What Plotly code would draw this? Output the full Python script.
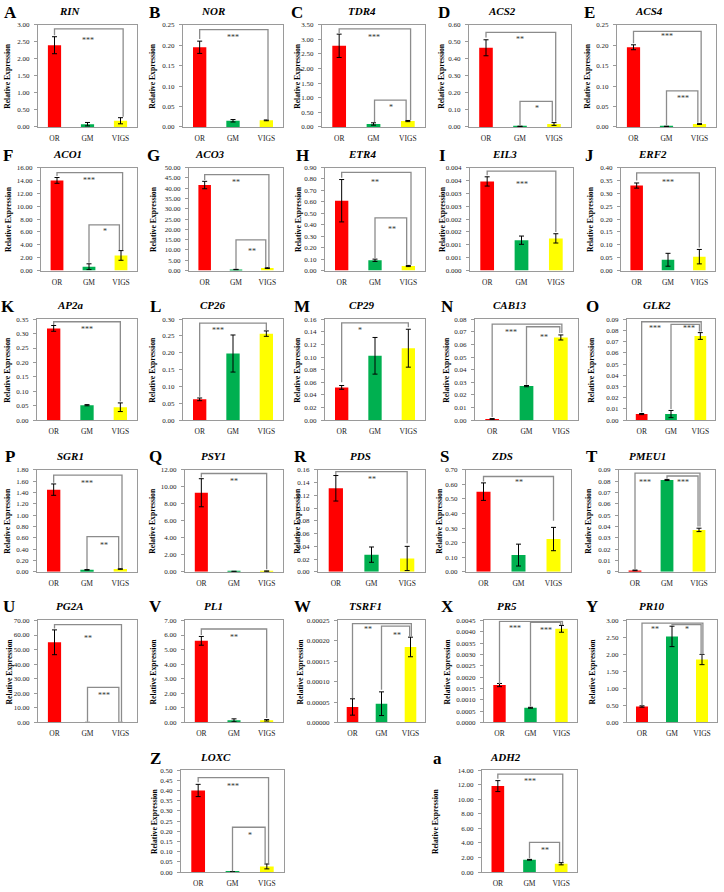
import plotly.graph_objects as go

W, H = 724, 892
SERIF = "Liberation Serif, Times New Roman, DejaVu Serif, serif"
BORDER = "#9a9a9a"
BRACKET = "#8c8c8c"

categories = ["OR", "GM", "VIGS"]
bar_colors = ["#FF0000", "#00B050", "#FFFF00"]

genes = ["RIN", "NOR", "TDR4", "ACS2", "ACS4",
         "ACO1", "ACO3", "ETR4", "EIL3", "ERF2",
         "AP2a", "CP26", "CP29", "CAB13", "GLK2",
         "SGR1", "PSY1", "PDS", "ZDS", "PMEU1",
         "PG2A", "PL1", "TSRF1", "PR5", "PR10",
         "LOXC", "ADH2"]
letters = ["A", "B", "C", "D", "E", "F", "G", "H", "I", "J", "K", "L", "M",
           "N", "O", "P", "Q", "R", "S", "T", "U", "V", "W", "X", "Y", "Z", "a"]

or_vals = [2.40, 0.195, 2.78, 0.465, 0.195,
           14.0, 41.5, 0.61, 0.00346, 0.33,
           0.318, 0.062, 0.052, 0.001, 0.0055,
           1.45, 9.3, 0.131, 0.55, 0.0013,
           55.0, 5.6, 0.000038, 0.00165, 0.47,
           0.40, 11.8]
gm_vals = [0.08, 0.015, 0.10, 0.003, 0.001,
           0.6, 0.5, 0.09, 0.00118, 0.042,
           0.052, 0.198, 0.102, 0.027, 0.0055,
           0.035, 0.05, 0.027, 0.115, 0.081,
           0.05, 0.15, 0.000046, 0.00065, 2.53,
           0.001, 1.7]
vigs_vals = [0.18, 0.016, 0.20, 0.017, 0.007,
             2.35, 1.2, 0.04, 0.00125, 0.054,
             0.045, 0.257, 0.114, 0.0655, 0.075,
             0.05, 0.08, 0.021, 0.225, 0.037,
             0.05, 0.15, 0.000185, 0.00413, 1.85,
             0.028, 1.15]
or_err = [0.25, 0.015, 0.40, 0.047, 0.006,
          0.45, 1.8, 0.185, 0.00018, 0.01,
          0.01, 0.004, 0.003, 0.0003, 0.0005,
          0.10, 1.65, 0.020, 0.06, 0.0003,
          8.5, 0.3, 0.00002, 0.00007, 0.02,
          0.03, 0.75]
gm_err = [0.05, 0.003, 0.04, 0.001, 0.0005,
          0.45, 0.1, 0.01, 0.00016, 0.025,
          0.002, 0.055, 0.029, 0.0005, 0.0032,
          0.005, 0.02, 0.012, 0.075, 0.0005,
          0.02, 0.1, 0.000029, 0.00002, 0.30,
          0.0005, 0.05]
vigs_err = [0.09, 0.001, 0.02, 0.008, 0.001,
            0.75, 0.2, 0.005, 0.00018, 0.028,
            0.015, 0.008, 0.030, 0.002, 0.003,
            0.005, 0.03, 0.019, 0.08, 0.0015,
            0.02, 0.05, 0.000024, 0.00015, 0.15,
            0.012, 0.15]

y_max = [3.0, 0.25, 3.5, 0.6, 0.25,
         16, 50, 0.9, 0.004, 0.4,
         0.35, 0.30, 0.16, 0.08, 0.09,
         1.8, 12, 0.16, 0.7, 0.09,
         70, 7, 0.00025, 0.0045, 3.0,
         0.5, 14]
y_step = [0.5, 0.05, 0.5, 0.1, 0.05,
          2, 5, 0.1, 0.0005, 0.05,
          0.05, 0.05, 0.02, 0.01, 0.01,
          0.2, 2, 0.02, 0.1, 0.01,
          10, 1, 0.00005, 0.0005, 0.5,
          0.05, 2]
y_decimals = [2, 2, 2, 2, 2,
              2, 2, 2, 3, 2,
              2, 2, 2, 2, 2,
              2, 2, 2, 2, 2,
              2, 2, 5, 4, 2,
              2, 2]
custom_ticktext = {
    "EIL3": ["0.000", "0.001", "0.001", "0.002", "0.002", "0.003", "0.003", "0.004", "0.004"],
    "PMEU1": ["0", "0.01", "0.02", "0.03", "0.04", "0.05", "0.06", "0.07", "0.08", "0.09"],
}

# significance brackets: (x_left, y_left_end, x_right, y_right_end, y_top)
brackets = {
    "RIN": [(0, 2.69, 2.08, 0.30, 2.88)],
    "NOR": [(0, 0.215, 2.05, 0.018, 0.238)],
    "TDR4": [(0, 3.22, 2.08, 0.24, 3.36), (1.03, 0.17, 1.95, 0.24, 0.92)],
    "ACS2": [(0, 0.525, 2.05, 0.03, 0.555), (1, 0.008, 1.95, 0.03, 0.15)],
    "ACS4": [(0, 0.205, 2.05, 0.01, 0.234), (1, 0.003, 1.95, 0.01, 0.088)],
    "ACO1": [(0, 14.7, 2.05, 3.2, 15.2), (1, 1.2, 1.95, 3.2, 7.1)],
    "ACO3": [(0, 44, 2.05, 1.6, 46.6), (1, 0.8, 1.95, 1.6, 14.9)],
    "ETR4": [(0, 0.81, 2.08, 0.05, 0.857), (1, 0.11, 1.95, 0.05, 0.46)],
    "EIL3": [(0, 0.0037, 2.0, 0.0015, 0.00386)],
    "ERF2": [(0, 0.35, 2.0, 0.09, 0.379)],
    "AP2a": [(0, 0.33, 2.0, 0.065, 0.341)],
    "CP26": [(0, 0.07, 2.0, 0.268, 0.288)],
    "CP29": [(0, 0.06, 2.0, 0.147, 0.154)],
    "CAB13": [(0, 0.0025, 2.03, 0.069, 0.0761), (1, 0.028, 1.97, 0.069, 0.074)],
    "GLK2": [(0, 0.007, 2.03, 0.079, 0.0877), (1, 0.01, 1.97, 0.079, 0.0853)],
    "SGR1": [(0, 1.57, 2.05, 0.07, 1.706), (1, 0.05, 1.95, 0.07, 0.62)],
    "PSY1": [(0, 11.1, 2.0, 0.3, 11.56)],
    "PDS": [(0, 0.152, 2.0, 0.045, 0.157)],
    "ZDS": [(0, 0.62, 2.0, 0.35, 0.654)],
    "PMEU1": [(0, 0.002, 2.03, 0.04, 0.0871), (1, 0.082, 1.97, 0.04, 0.0845)],
    "PG2A": [(0, 64.5, 2.03, 0.5, 67.1), (1, 0.5, 1.95, 0.5, 24.1)],
    "PL1": [(0, 6.0, 2.0, 0.3, 6.41)],
    "TSRF1": [(0, 0.00006, 2.03, 0.00021, 0.000242), (1, 0.00008, 1.97, 0.00021, 0.000236)],
    "PR5": [(0, 0.0017, 2.03, 0.0043, 0.00446), (1, 0.0007, 1.97, 0.0043, 0.00441)],
    "PR10": [(0, 0.5, 2.03, 2.0, 2.92), (1, 2.84, 1.97, 2.0, 2.875)],
    "LOXC": [(0, 0.44, 2.05, 0.045, 0.463), (1, 0.005, 1.95, 0.045, 0.22)],
    "ADH2": [(0, 12.8, 2.05, 1.4, 13.45), (1, 1.9, 1.95, 1.4, 4.09)],
}
stars = {
    "RIN": [("***", 1, 2.55)],
    "NOR": [("***", 1, 0.22)],
    "TDR4": [("***", 1, 3.05), ("*", 1.5, 0.68)],
    "ACS2": [("**", 1, 0.515), ("*", 1.5, 0.11)],
    "ACS4": [("***", 1, 0.222), ("***", 1.5, 0.07)],
    "ACO1": [("***", 1, 14.0), ("*", 1.5, 6.0)],
    "ACO3": [("**", 1, 42.5), ("**", 1.5, 9.5)],
    "ETR4": [("**", 1, 0.77), ("**", 1.5, 0.36)],
    "EIL3": [("***", 1, 0.00335)],
    "ERF2": [("***", 1, 0.34)],
    "AP2a": [("***", 1, 0.315)],
    "CP26": [("***", 0.55, 0.265)],
    "CP29": [("*", 0.55, 0.142)],
    "CAB13": [("***", 0.55, 0.0695), ("**", 1.5, 0.0655)],
    "GLK2": [("***", 0.45, 0.082), ("***", 1.6, 0.082)],
    "SGR1": [("***", 1, 1.55), ("**", 1.5, 0.47)],
    "PSY1": [("**", 1, 10.6)],
    "PDS": [("**", 1, 0.145)],
    "ZDS": [("**", 1, 0.61)],
    "PMEU1": [("***", 0.3, 0.079), ("***", 1.5, 0.079)],
    "PG2A": [("**", 1, 57.5), ("***", 1.5, 18.5)],
    "PL1": [("**", 1, 5.8)],
    "TSRF1": [("**", 0.55, 0.000228), ("**", 1.55, 0.000213)],
    "PR5": [("***", 0.5, 0.00415), ("***", 1.5, 0.00407)],
    "PR10": [("**", 0.42, 2.73), ("*", 1.5, 2.73)],
    "LOXC": [("***", 1, 0.42), ("*", 1.5, 0.18)],
    "ADH2": [("***", 1, 12.4), ("**", 1.5, 2.9)],
}

# ---------------- layout geometry (pixels) ----------------
row_tb = [(21, 124), (165, 269), (318, 420), (470, 573), (622, 725), (773, 876)]
panel_lr = [(38, 137), (183, 283), (322, 425), (469, 571), (617, 716),
            (41, 137), (189, 283), (325, 425), (470, 573), (621, 715),
            (37, 137), (183, 283), (325, 425), (475, 578), (627, 715),
            (37, 137), (185, 283), (318, 425), (466, 571), (619, 715),
            (38, 137), (185, 283), (338, 425), (484, 577), (627, 717),
            (181, 284), (482, 577)]
panel_row = [0]*5 + [1]*5 + [2]*5 + [3]*5 + [4]*5 + [5, 5]
letter_xy = [(10, 9), (154, 9), (297, 9), (444, 9), (589, 9),
             (8, 153), (153, 153), (302, 153), (442, 153), (589, 153),
             (8, 305), (155, 305), (302, 305), (447, 305), (592, 305),
             (10, 457), (155, 457), (300, 457), (445, 457), (592, 457),
             (9, 608), (155, 608), (302, 608), (447, 608), (592, 608),
             (155, 761), (437, 761)]
title_x = [70, 213, 362, 502, 649,
           67, 210, 362, 504, 652,
           70, 213, 362, 510, 657,
           70, 213, 360, 502, 647,
           70, 213, 365, 507, 652,
           215, 505]
title_y_row = [7, 151, 304, 456, 607, 760]
ytitle_x = [8, 153, 298, 442, 588,
            8, 153, 298, 442, 590,
            8, 153, 298, 447, 592,
            8, 153, 298, 440, 589,
            9, 153, 300, 447, 592,
            154, 435]


def px(x):
    return x / W


def py(y):
    return 1 - y / H


fig = go.Figure()
layout = {}
shapes = []
annotations = []

for k, g in enumerate(genes):
    n = k + 1
    sfx = "" if n == 1 else str(n)
    l, r = panel_lr[k]
    t, b = row_tb[panel_row[k]]

    nt = int(round(y_max[k] / y_step[k]))
    tickvals = [i * y_step[k] for i in range(nt + 1)]
    if g in custom_ticktext:
        ticktext = custom_ticktext[g]
    else:
        ticktext = [f"{v:.{y_decimals[k]}f}" for v in tickvals]

    layout["xaxis" + sfx] = dict(
        domain=[px(l), px(r)], anchor="y" + sfx, range=[-0.5, 2.5],
        tickvals=[0, 1, 2], ticktext=categories,
        showline=True, mirror=True, linecolor=BORDER, linewidth=1,
        ticks="", showgrid=False, zeroline=False,
        tickfont=dict(family=SERIF, size=7.5, color="#222"),
        ticklabelstandoff=4, fixedrange=True)
    layout["yaxis" + sfx] = dict(
        domain=[py(b), py(t)], anchor="x" + sfx, range=[0, y_max[k]],
        tickvals=tickvals, ticktext=ticktext,
        showline=True, mirror=True, linecolor=BORDER, linewidth=1,
        ticks="outside", ticklen=3, tickcolor=BORDER, tickwidth=1,
        showgrid=False, zeroline=False,
        tickfont=dict(family=SERIF, size=7, color="#222"),
        ticklabelstandoff=3, fixedrange=True)

    fig.add_trace(go.Bar(
        x=[0, 1, 2], y=[or_vals[k], gm_vals[k], vigs_vals[k]],
        width=0.4,
        marker=dict(color=bar_colors, line=dict(width=0)),
        error_y=dict(type="data", array=[or_err[k], gm_err[k], vigs_err[k]],
                     color="black", thickness=1, width=2.5),
        xaxis="x" + sfx, yaxis="y" + sfx, showlegend=False, hoverinfo="skip"))

    for (x1, y1, x2, y2, ytop) in brackets.get(g, []):
        shapes.append(dict(
            type="path", xref="x" + sfx, yref="y" + sfx,
            path=f"M {x1},{y1} L {x1},{ytop} L {x2},{ytop} L {x2},{y2}",
            line=dict(color=BRACKET, width=1.3)))
    for (txt, sx, sy) in stars.get(g, []):
        annotations.append(dict(
            text=txt, x=sx, y=sy, xref="x" + sfx, yref="y" + sfx,
            showarrow=False, xanchor="center", yanchor="middle",
            font=dict(family=SERIF, size=8, color="#333")))

    lx, ly = letter_xy[k]
    annotations.append(dict(
        text=f"<b>{letters[k]}</b>", x=px(lx), y=py(ly), xref="paper", yref="paper",
        showarrow=False, xanchor="center", yanchor="middle",
        font=dict(family=SERIF, size=17, color="black")))
    annotations.append(dict(
        text=f"<b><i>{g}</i></b>", x=px(title_x[k]), y=py(title_y_row[panel_row[k]]),
        xref="paper", yref="paper", showarrow=False, xanchor="center", yanchor="middle",
        font=dict(family=SERIF, size=11, color="black")))
    annotations.append(dict(
        text="<b>Relative Expression</b>", x=px(ytitle_x[k]), y=py((t + b) / 2),
        xref="paper", yref="paper", showarrow=False, xanchor="center", yanchor="middle",
        textangle=-90, font=dict(family=SERIF, size=7.7, color="black")))

fig.update_layout(
    **layout,
    width=W, height=H,
    margin=dict(l=0, r=0, t=0, b=0),
    paper_bgcolor="white", plot_bgcolor="white",
    font=dict(family=SERIF),
    showlegend=False, shapes=shapes, annotations=annotations)

fig.write_html("out.html", config={"displayModeBar": False},
               post_script="document.body.style.margin='0';document.body.style.overflow='hidden';")
